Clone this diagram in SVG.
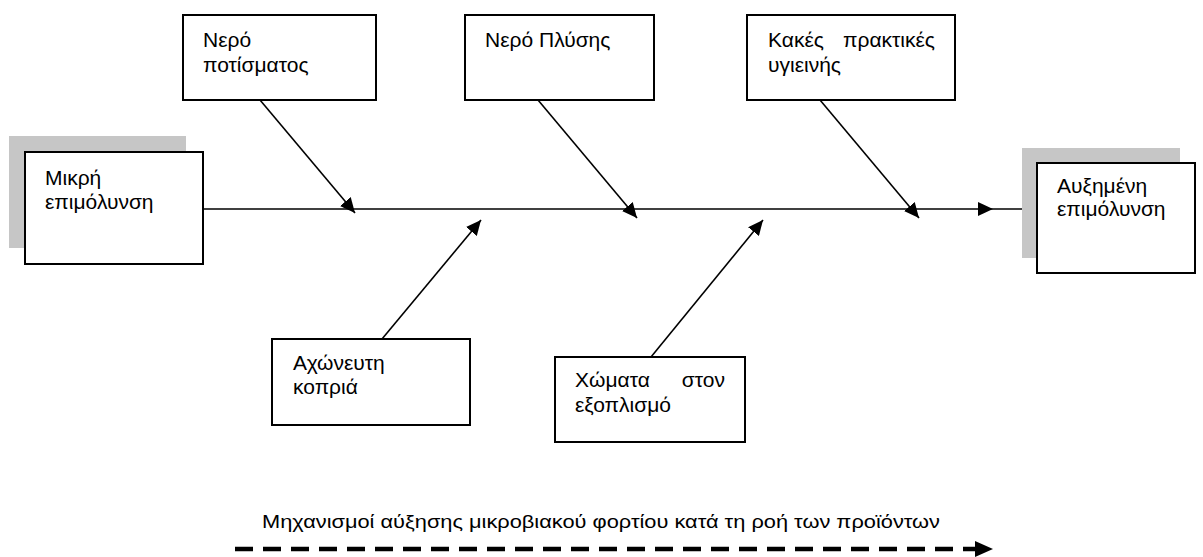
<svg xmlns="http://www.w3.org/2000/svg" width="1203" height="557" viewBox="0 0 1203 557">
<defs>
<style>
.box{fill:#fff;stroke:#000;stroke-width:2}
.shadow{fill:#c6c6c6;stroke:none}
.t{font-family:"Liberation Sans",Arial,sans-serif;font-size:21px;fill:#000}
.cap{font-family:"Liberation Sans",Arial,sans-serif;font-size:18px;fill:#000}
.ln{stroke:#000;stroke-width:1.6;fill:none}
</style>
<marker id="ah" markerUnits="userSpaceOnUse" markerWidth="16" markerHeight="14" refX="15" refY="7" orient="auto" viewBox="0 0 16 14">
<path d="M0,0 L15,7 L0,14 Z" fill="#000"/>
</marker>
</defs>
<g id="connectors">
<line class="ln" x1="203" y1="209" x2="993" y2="209" marker-end="url(#ah)"/>
<line class="ln" x1="993" y1="209" x2="1037" y2="209"/>
<line class="ln" x1="260" y1="100" x2="355" y2="213" marker-end="url(#ah)"/>
<line class="ln" x1="538" y1="100" x2="637" y2="218" marker-end="url(#ah)"/>
<line class="ln" x1="820" y1="100" x2="919" y2="218" marker-end="url(#ah)"/>
<line class="ln" x1="382" y1="339" x2="481" y2="220" marker-end="url(#ah)"/>
<line class="ln" x1="651" y1="357" x2="763" y2="220" marker-end="url(#ah)"/>
</g>
<g id="node-start">
<rect class="shadow" x="9" y="136" width="177" height="112"/>
<rect class="box" x="25" y="152" width="178" height="112"/>
<text class="t" x="45" y="185">Μικρή</text>
<text class="t" x="45" y="209">επιμόλυνση</text>
</g>
<g id="node-potismatos">
<rect class="box" x="183" y="15" width="193" height="85"/>
<text class="t" x="203" y="47">Νερό</text>
<text class="t" x="203" y="72">ποτίσματος</text>
</g>
<g id="node-plysis">
<rect class="box" x="465" y="15" width="189" height="85"/>
<text class="t" x="485" y="47">Νερό Πλύσης</text>
</g>
<g id="node-ygieinis">
<rect class="box" x="747" y="15" width="208" height="85"/>
<text class="t" x="768" y="47">Κακές</text>
<text class="t" x="935" y="47" text-anchor="end">πρακτικές</text>
<text class="t" x="768" y="72">υγιεινής</text>
</g>
<g id="node-end">
<rect class="shadow" x="1022" y="148" width="158" height="110"/>
<rect class="box" x="1037" y="163" width="158" height="110"/>
<text class="t" x="1057" y="193">Αυξημένη</text>
<text class="t" x="1057" y="216">επιμόλυνση</text>
</g>
<g id="node-kopria">
<rect class="box" x="272" y="339" width="198" height="86"/>
<text class="t" x="293" y="370">Αχώνευτη</text>
<text class="t" x="293" y="394">κοπριά</text>
</g>
<g id="node-xomata">
<rect class="box" x="555" y="357" width="190" height="85"/>
<text class="t" x="575" y="387">Χώματα</text>
<text class="t" x="725" y="387" text-anchor="end">στον</text>
<text class="t" x="575" y="412">εξοπλισμό</text>
</g>
<g id="caption">
<text class="cap" x="262" y="528" textLength="678" lengthAdjust="spacingAndGlyphs">Μηχανισμοί αύξησης μικροβιακού φορτίου κατά τη ροή των προϊόντων</text>
<line x1="235" y1="549" x2="978" y2="549" stroke="#000" stroke-width="4.5" stroke-dasharray="18 10"/>
<path d="M975,541 L993,549 L975,557 Z" fill="#000"/>
</g>
</svg>
